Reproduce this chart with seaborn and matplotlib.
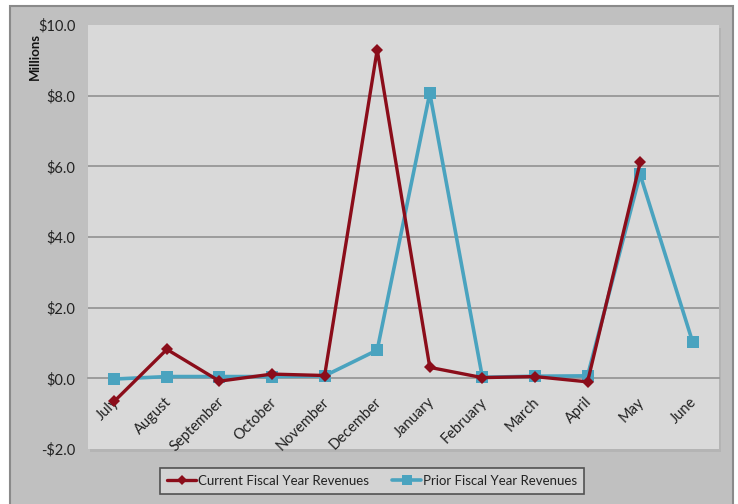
import numpy as np
import pandas as pd
import matplotlib
matplotlib.use("Agg")
import matplotlib.pyplot as plt
from matplotlib.patches import Rectangle
from matplotlib.lines import Line2D
import seaborn as sns

months = ["July", "August", "September", "October", "November", "December",
          "January", "February", "March", "April", "May", "June"]
current_fy = [-0.65, 0.82, -0.08, 0.12, 0.08, 9.30, 0.31, 0.02, 0.05, -0.10, 6.11, np.nan]
prior_fy = [-0.02, 0.05, 0.05, 0.05, 0.07, 0.80, 8.07, 0.03, 0.06, 0.07, 5.77, 1.02]
y_ticks = [-2, 0, 2, 4, 6, 8, 10]

sns.set_theme(style="white")
plt.rcParams["font.family"] = ["Lato", "DejaVu Sans"]

RED = "#8b0d1a"
TEAL = "#4aa3bf"

W, H = 738, 504
fig = plt.figure(figsize=(W / 100, H / 100), dpi=100, facecolor="white")

# outer chart-area panel
fig.patches.append(Rectangle((10 / W, -0.02), 723 / W, 1.02 - 6 / H,
                             transform=fig.transFigure, facecolor="#c0c0c0",
                             edgecolor="#8a8a8a", linewidth=1.5, zorder=0))
# soft shadow of the plot area
fig.patches.append(Rectangle((90 / W, 1 - 452 / H), 631 / W, 424 / H,
                             transform=fig.transFigure, facecolor="#b4b4b4",
                             edgecolor="none", zorder=0.5))

ax = fig.add_axes([88 / W, 1 - 449 / H, 631 / W, 424 / H])
ax.set_zorder(2)
ax.set_facecolor("#d9d9d9")

df = pd.DataFrame({"pos": np.arange(len(months)), "month": months,
                   "current": current_fy, "prior": prior_fy})

sns.lineplot(data=df, x="pos", y="current", ax=ax, color=RED, linewidth=2.4,
             marker="D", markersize=6.5, markeredgewidth=0, zorder=4)
sns.lineplot(data=df, x="pos", y="prior", ax=ax, color=TEAL, linewidth=2.6,
             marker="s", markersize=9, markeredgewidth=0, zorder=3)

ax.set_xlim(-0.5, len(months) - 0.5)
ax.set_ylim(-2, 10)
ax.set_yticks(y_ticks)
ax.set_yticklabels([f"-${abs(v):.1f}" if v < 0 else f"${v:.1f}" for v in y_ticks],
                   fontsize=10.5, color="#222222")
for v in [2, 4, 6, 8]:
    ax.axhline(v, color="#8c8c8c", linewidth=1.1, zorder=1)

for s in ["top", "right", "left"]:
    ax.spines[s].set_visible(False)
ax.spines["bottom"].set_position(("data", 0))
ax.spines["bottom"].set_color("#8c8c8c")
ax.spines["bottom"].set_linewidth(1.1)
ax.spines["bottom"].set_zorder(1)

ax.set_xticks(np.arange(len(months)))
ax.set_xticklabels([])
ax.set_xticks(np.arange(-0.5, len(months)), minor=True)
ax.tick_params(axis="x", which="major", length=0)
ax.tick_params(axis="x", which="minor", length=4, direction="in", color="#8c8c8c", width=1)
ax.tick_params(axis="y", length=4, color="#8c8c8c", pad=5, left=False)

# rotated month labels hanging below the zero line
for i, m in enumerate(months):
    ax.annotate(m, xy=(i, 0), xytext=(-2, -12), textcoords="offset points",
                rotation=45, ha="right", va="top", rotation_mode="anchor",
                fontsize=10.5, color="#222222", annotation_clip=False)

ax.set_xlabel("")
ax.set_ylabel("")
fig.text(35 / W, 1 - 57 / H, "Millions", rotation=90, ha="center", va="center",
         fontsize=9.5, fontweight="bold", color="#111111")

handles = [Line2D([], [], color=RED, linewidth=2.4, marker="D", markersize=5.5, markeredgewidth=0),
           Line2D([], [], color=TEAL, linewidth=2.6, marker="s", markersize=7, markeredgewidth=0)]
leg = fig.legend(handles, ["Current Fiscal Year Revenues", "Prior Fiscal Year Revenues"],
                 loc="center", bbox_to_anchor=(372 / W, 1 - 481 / H), ncol=2,
                 frameon=True, fancybox=False, fontsize=9.5, handlelength=2.2,
                 handletextpad=0.1, columnspacing=1.8, borderpad=0.55)
leg.get_frame().set_facecolor("#d9d9d9")
leg.get_frame().set_edgecolor("#333333")
leg.get_frame().set_linewidth(1.2)
for t in leg.get_texts():
    t.set_color("#222222")

fig.savefig("out.png", dpi=100, facecolor="white")
